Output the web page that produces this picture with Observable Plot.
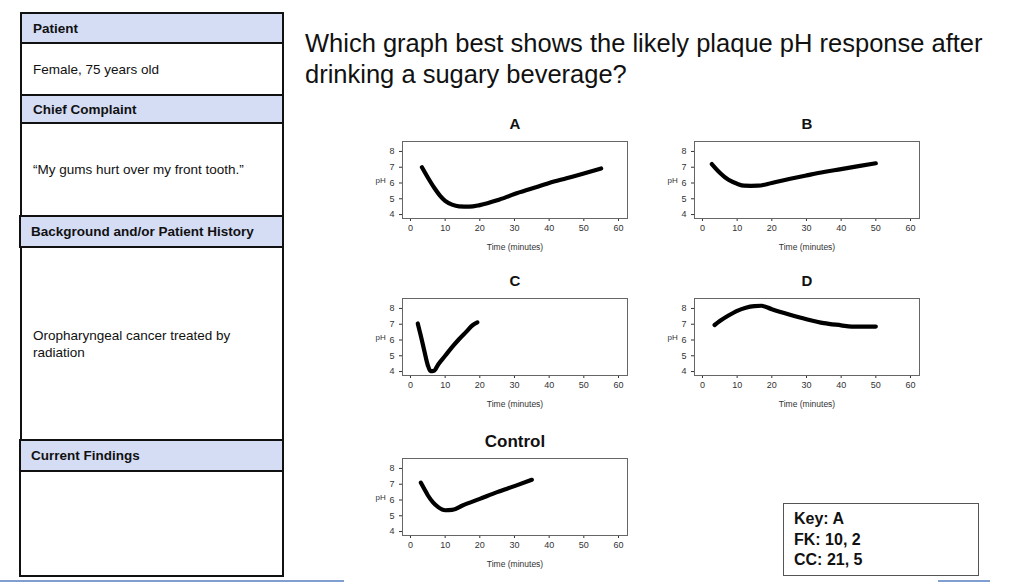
<!DOCTYPE html>
<html>
<head>
<meta charset="utf-8">
<script src="https://cdn.jsdelivr.net/npm/d3@7"></script>
<script src="https://cdn.jsdelivr.net/npm/@observablehq/plot@0.6"></script>
<style>
  html, body { margin: 0; padding: 0; background: #fff; }
  #page { position: relative; width: 1024px; height: 586px; overflow: hidden; background: #fff;
          font-family: "Liberation Sans", Arial, sans-serif; color: #111; }
  .box { position: absolute; box-sizing: border-box; border: 2px solid #111; display: flex;
         align-items: center; padding-left: 11px; font-size: 13.5px; line-height: 17px; }
  .hdr { background: #d5ddf5; font-weight: bold; }
  .chart { position: absolute; }
  #question { position: absolute; left: 305px; top: 28px; font-size: 25.5px; line-height: 31px;
              white-space: nowrap; color: #111; }
  #key { position: absolute; left: 783px; top: 503px; width: 196px; height: 73px; box-sizing: border-box;
         border: 1.5px solid #555; padding: 5px 0 0 10px; font-weight: bold; font-size: 16px; line-height: 20.5px; }
  .rule { position: absolute; height: 2px; background: #7f9fd3; }
</style>
</head>
<body>
<div id="page">
  <div class="box hdr" style="left:20px;top:12px;width:264px;height:32px;">Patient</div>
  <div class="box" style="left:20px;top:42px;width:264px;height:54px;">Female, 75 years old</div>
  <div class="box hdr" style="left:20px;top:94px;width:264px;height:30px;">Chief Complaint</div>
  <div class="box" style="left:20px;top:122px;width:264px;height:95px;">“My gums hurt over my front tooth.”</div>
  <div class="box hdr" style="left:19px;top:215px;width:265px;height:33px;padding-left:10px;">Background and/or Patient History</div>
  <div class="box" style="left:20px;top:246px;width:264px;height:195px;">Oropharyngeal cancer treated by<br>radiation</div>
  <div class="box hdr" style="left:19px;top:439px;width:265px;height:33px;padding-left:10px;">Current Findings</div>
  <div class="box" style="left:19px;top:470px;width:265px;height:107px;"></div>

  <div id="question">Which graph best shows the likely plaque pH response after<br>drinking a sugary beverage?</div>

  <div id="key">Key: A<br>FK: 10, 2<br>CC: 21, 5</div>

  <div class="rule" style="left:0px;top:580px;width:344px;"></div>
  <div class="rule" style="left:938px;top:580px;width:52px;"></div>
</div>
<script>
// ---- data ----
const timeTicks = [0, 10, 20, 30, 40, 50, 60];
const phTicks = [4, 5, 6, 7, 8];
const panelTitles = ["A", "B", "C", "D", "Control"];

const timeA = [3.3, 5, 7, 8.5, 10, 12, 14, 17, 20, 25, 30, 35, 40, 45, 50, 55];
const phA   = [7.0, 6.35, 5.65, 5.2, 4.87, 4.63, 4.52, 4.5, 4.6, 4.9, 5.3, 5.65, 6.0, 6.3, 6.6, 6.92];

const timeB = [2.7, 5, 7.5, 10, 12, 14, 16, 20, 25, 30, 35, 40, 45, 50];
const phB   = [7.2, 6.65, 6.2, 5.95, 5.83, 5.82, 5.83, 6.0, 6.25, 6.48, 6.7, 6.88, 7.07, 7.25];

const timeC = [2.1, 3, 4, 5, 5.8, 6.8, 8, 10, 12, 14, 16, 18, 19.3];
const phC   = [7.05, 6.25, 5.3, 4.4, 4.02, 4.05, 4.45, 5.0, 5.55, 6.05, 6.5, 6.95, 7.12];

const timeD = [3.5, 5, 7.5, 10, 12.5, 15, 17, 20, 25, 30, 35, 40, 43, 50];
const phD   = [6.95, 7.2, 7.55, 7.85, 8.05, 8.15, 8.17, 7.95, 7.62, 7.32, 7.07, 6.93, 6.85, 6.85];

const timeCtrl = [3, 4, 5, 6.5, 8, 10, 12, 15, 20, 25, 30, 35];
const phCtrl   = [7.1, 6.7, 6.3, 5.85, 5.55, 5.35, 5.37, 5.65, 6.07, 6.5, 6.88, 7.28];

const series = [
  {title: panelTitles[0], t: timeA, ph: phA, left: 362, top: 113, titleSize: 15},
  {title: panelTitles[1], t: timeB, ph: phB, left: 654, top: 113, titleSize: 15},
  {title: panelTitles[2], t: timeC, ph: phC, left: 362, top: 270, titleSize: 15},
  {title: panelTitles[3], t: timeD, ph: phD, left: 654, top: 270, titleSize: 15},
  {title: panelTitles[4], t: timeCtrl, ph: phCtrl, left: 362, top: 430, titleSize: 17}
];

const page = document.getElementById("page");

for (const s of series) {
  const data = s.t.map((t, i) => ({time: t, ph: s.ph[i]}));
  const chart = Plot.plot({
    width: 273,
    height: 141,
    marginLeft: 40,
    marginRight: 8,
    marginTop: 28,
    marginBottom: 36,
    style: {fontFamily: "Liberation Sans, Arial, sans-serif", fontSize: "9px", color: "#333", background: "transparent"},
    x: {domain: [-2.3, 62.6], ticks: timeTicks, tickFormat: d3.format("d"), tickSize: 3, tickPadding: 3, label: null},
    y: {domain: [3.75, 8.63], ticks: phTicks, tickFormat: d3.format("d"), tickSize: 3, tickPadding: 5, label: null},
    marks: [
      Plot.frame({stroke: "#666", strokeWidth: 1}),
      Plot.line(data, {x: "time", y: "ph", curve: "monotone-x", stroke: "#000", strokeWidth: 4.2, strokeLinecap: "round", strokeLinejoin: "round"}),
      Plot.text(["pH"], {text: d => d, frameAnchor: "left", dx: -27, fontSize: 8, fill: "#333"}),
      Plot.text(["Time (minutes)"], {text: d => d, frameAnchor: "bottom", lineAnchor: "middle", dy: 29, fontSize: 8.5, fill: "#333"}),
      Plot.text([s.title], {text: d => d, frameAnchor: "top", lineAnchor: "middle", dy: -17, fontSize: s.titleSize, fontWeight: "bold", fill: "#111"})
    ]
  });
  const holder = document.createElement("div");
  holder.className = "chart";
  holder.style.left = s.left + "px";
  holder.style.top = s.top + "px";
  holder.appendChild(chart);
  page.appendChild(holder);
}
</script>
</body>
</html>
